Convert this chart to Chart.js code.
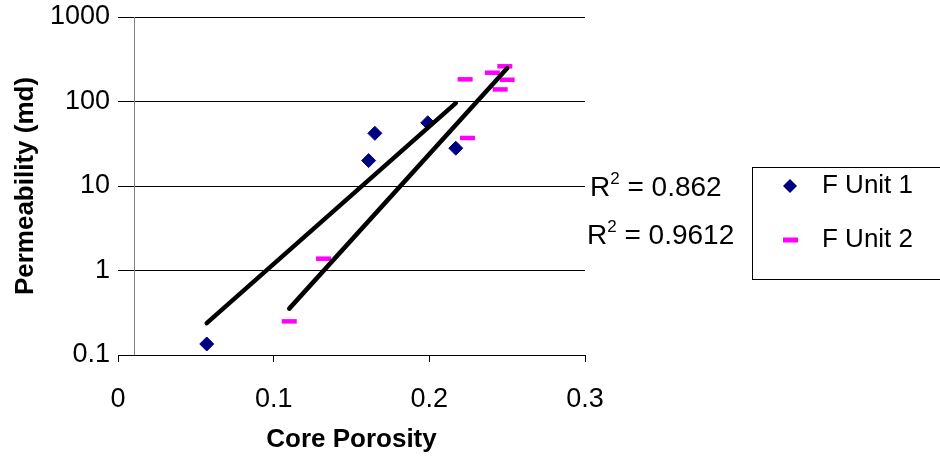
<!DOCTYPE html>
<html>
<head>
<meta charset="utf-8">
<script src="https://cdn.jsdelivr.net/npm/chart.js@4.4.1/dist/chart.umd.min.js"></script>
<style>
  html, body { margin: 0; padding: 0; background: #ffffff; }
  #wrap { width: 940px; height: 463px; position: relative; }
</style>
</head>
<body>
<div id="wrap"><canvas id="chart" width="940" height="463"></canvas></div>
<script>
// Core porosity (fraction) and permeability (md) for the two flow units
const unit1Porosity = [0.057, 0.161, 0.165, 0.199, 0.217];
const unit1Perm     = [0.135, 20, 42, 56, 28];
const unit2Porosity = [0.110, 0.132, 0.2245, 0.223, 0.2405, 0.2485, 0.250, 0.2455];
const unit2Perm     = [0.25, 1.38, 37, 183, 219, 261, 181, 139];

const seriesNames = ['F Unit 1', 'F Unit 2'];
const r2Values    = ['0.862', '0.9612'];

const xTicks      = [0, 0.1, 0.2, 0.3];
const xTickLabels = ['0', '0.1', '0.2', '0.3'];
const yTicks      = [0.1, 1, 10, 100, 1000];
const yTickLabels = ['0.1', '1', '10', '100', '1000'];
const valueAxisCrossing = 0.01;   // porosity where the vertical axis crosses

const FONT = "'Liberation Sans', Arial, Helvetica, sans-serif";
const NAVY = '#000080';
const MAGENTA = '#FF00FF';

// Exponential trendline (least squares on log10 of permeability)
function expTrend(xs, ys) {
  const ly = ys.map(v => Math.log10(v));
  const n = xs.length;
  const mx = xs.reduce((a, b) => a + b, 0) / n;
  const my = ly.reduce((a, b) => a + b, 0) / n;
  let sxy = 0, sxx = 0;
  for (let i = 0; i < n; i++) {
    sxy += (xs[i] - mx) * (ly[i] - my);
    sxx += (xs[i] - mx) * (xs[i] - mx);
  }
  const slope = sxy / sxx;
  const icpt = my - slope * mx;
  const x0 = Math.min(...xs), x1 = Math.max(...xs);
  return [
    { x: x0, y: Math.pow(10, icpt + slope * x0) },
    { x: x1, y: Math.pow(10, icpt + slope * x1) }
  ];
}

const pts = (xs, ys) => xs.map((x, i) => ({ x, y: ys[i] }));

// Vertical value-axis line, R² labels and boxed legend
const decorations = {
  id: 'decorations',
  beforeDatasetsDraw(chart) {
    const { ctx, chartArea, scales } = chart;
    const x = Math.round(scales.x.getPixelForValue(valueAxisCrossing)) + 0.5;
    ctx.save();
    ctx.strokeStyle = '#808080';
    ctx.lineWidth = 1;
    ctx.beginPath();
    ctx.moveTo(x, chartArea.top);
    ctx.lineTo(x, chartArea.bottom);
    ctx.stroke();
    ctx.restore();
  },
  afterDraw(chart) {
    const { ctx, chartArea } = chart;
    ctx.save();
    ctx.fillStyle = '#000';
    ctx.textBaseline = 'alphabetic';
    // R² labels
    const r2Pos = [{ x: chartArea.right + 5, y: 196 }, { x: chartArea.right + 2, y: 244 }];
    r2Values.forEach((v, i) => {
      let x = r2Pos[i].x;
      const y = r2Pos[i].y;
      ctx.font = '28px ' + FONT;
      ctx.fillText('R', x, y);
      x += ctx.measureText('R').width;
      ctx.font = '17px ' + FONT;
      ctx.fillText('2', x, y - 12);
      x += ctx.measureText('2').width;
      ctx.font = '28px ' + FONT;
      ctx.fillText(' = ' + v, x, y);
    });

    // legend box
    const bx = 752.5, by = 167.5, bw = 200, bh = 112;
    ctx.strokeStyle = '#000';
    ctx.lineWidth = 1;
    ctx.strokeRect(bx, by, bw, bh);

    const rows = [186, 240];
    // diamond marker
    ctx.fillStyle = NAVY;
    ctx.beginPath();
    ctx.moveTo(790 - 7, rows[0]);
    ctx.lineTo(790, rows[0] - 7);
    ctx.lineTo(790 + 7, rows[0]);
    ctx.lineTo(790, rows[0] + 7);
    ctx.closePath();
    ctx.fill();
    // dash marker
    ctx.fillStyle = MAGENTA;
    ctx.fillRect(783, rows[1] - 2.5, 15, 5);

    ctx.fillStyle = '#000';
    ctx.font = '26px ' + FONT;
    ctx.textBaseline = 'middle';
    seriesNames.forEach((name, i) => ctx.fillText(name, 822, rows[i]));
    ctx.restore();
  }
};

const trend1 = expTrend(unit1Porosity, unit1Perm);
const trend2 = expTrend(unit2Porosity, unit2Perm);

new Chart(document.getElementById('chart'), {
  type: 'scatter',
  data: {
    datasets: [
      {
        label: 'trend 1', data: trend1, showLine: true,
        borderColor: '#000', borderWidth: 4.5, borderCapStyle: 'round',
        pointRadius: 0, order: 0
      },
      {
        label: 'trend 2', data: trend2, showLine: true,
        borderColor: '#000', borderWidth: 4.5, borderCapStyle: 'round',
        pointRadius: 0, order: 0
      },
      {
        label: seriesNames[0], data: pts(unit1Porosity, unit1Perm),
        pointStyle: 'rectRot', pointRadius: 7, borderWidth: 1,
        backgroundColor: NAVY, borderColor: NAVY, order: 1
      },
      {
        label: seriesNames[1], data: pts(unit2Porosity, unit2Perm),
        pointStyle: 'line', pointRadius: 7.5, borderWidth: 4.5,
        backgroundColor: MAGENTA, borderColor: MAGENTA, order: 1
      }
    ]
  },
  options: {
    responsive: false,
    animation: false,
    devicePixelRatio: 1,
    layout: { padding: { top: 17, right: 355, left: 0, bottom: 0 } },
    plugins: { legend: { display: false }, tooltip: { enabled: false } },
    scales: {
      x: {
        type: 'linear', min: 0, max: 0.3,
        afterBuildTicks: s => { s.ticks = xTicks.map(v => ({ value: v })); },
        afterFit: s => { s.height = 108; s.paddingLeft = 0; s.paddingRight = 0; },
        ticks: {
          color: '#000', font: { family: FONT, size: 27 }, padding: 21,
          maxRotation: 0, autoSkip: false,
          callback: (v, i) => xTickLabels[i]
        },
        grid: { drawOnChartArea: false, drawTicks: true, tickLength: 7, color: '#000', lineWidth: 1 },
        border: { display: true, color: '#000', width: 1 },
        title: {
          display: true, text: 'Core Porosity', color: '#000',
          font: { family: FONT, size: 26, weight: 'bold' },
          padding: { top: 0, bottom: 8 }
        }
      },
      y: {
        type: 'logarithmic', min: 0.1, max: 1000,
        afterBuildTicks: s => { s.ticks = yTicks.map(v => ({ value: v })); },
        afterFit: s => { s.width = 118; s.paddingTop = 0; s.paddingBottom = 0; },
        ticks: {
          color: '#000', font: { family: FONT, size: 27 }, padding: 8,
          autoSkip: false,
          callback: (v, i) => yTickLabels[i]
        },
        grid: { drawTicks: false, color: '#000', lineWidth: 1 },
        border: { display: false },
        title: {
          display: true, text: 'Permeability (md)', color: '#000',
          font: { family: FONT, size: 26, weight: 'bold' },
          padding: { top: 10, bottom: 0 }
        }
      }
    }
  },
  plugins: [decorations]
});
</script>
</body>
</html>
